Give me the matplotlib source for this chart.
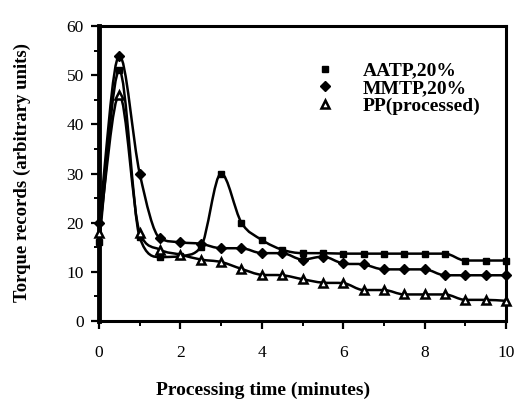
import numpy as np
import matplotlib
matplotlib.use("Agg")
import matplotlib.pyplot as plt
from matplotlib.path import Path
from matplotlib.patches import PathPatch
from matplotlib.lines import Line2D

plt.rcParams['font.family'] = ['Liberation Serif', 'DejaVu Serif']

# processing time (minutes) and torque records
time = [0, 0.5, 1, 1.5, 2, 2.5, 3, 3.5, 4, 4.5, 5, 5.5, 6, 6.5, 7, 7.5, 8, 8.5, 9, 9.5, 10]
aatp = [16, 51, 17, 13, 13.2, 15, 30, 20, 16.5, 14.5, 13.8, 13.8, 13.7, 13.7, 13.7,
        13.7, 13.7, 13.7, 12.3, 12.3, 12.3]
mmtp = [20, 54, 30, 16.8, 16, 15.7, 14.8, 14.8, 13.8, 13.8, 12.5, 13.1, 11.7, 11.5,
        10.5, 10.5, 10.5, 9.3, 9.3, 9.3, 9.3]
pp = [18, 46, 18, 14.5, 13.5, 12.5, 12, 10.6, 9.4, 9.3, 8.5, 7.8, 7.7, 6.3, 6.3,
      5.4, 5.4, 5.4, 4.3, 4.3, 4.1]
labels = ['AATP,20%', 'MMTP,20%', 'PP(processed)']


def smooth_path(x, y):
    # catmull-rom tangents limited to stay monotone, drawn as bezier segments
    x = np.asarray(x, float)
    y = np.asarray(y, float)
    h = np.diff(x)
    d = np.diff(y) / h
    m = np.zeros_like(y)
    m[0], m[-1] = d[0], d[-1]
    for i in range(1, len(y) - 1):
        if d[i - 1] * d[i] > 0:
            cr = (y[i + 1] - y[i - 1]) / (x[i + 1] - x[i - 1])
            lim = 3 * min(abs(d[i - 1]), abs(d[i]))
            m[i] = np.sign(cr) * min(abs(cr), lim)
    verts = [(x[0], y[0])]
    codes = [Path.MOVETO]
    for i in range(len(h)):
        verts += [(x[i] + h[i] / 3, y[i] + m[i] * h[i] / 3),
                  (x[i + 1] - h[i] / 3, y[i + 1] - m[i + 1] * h[i] / 3),
                  (x[i + 1], y[i + 1])]
        codes += [Path.CURVE4] * 3
    return Path(verts, codes)


fig = plt.figure(figsize=(5.18, 4.05), dpi=100)
ax = fig.add_axes([99 / 518, 1 - 321 / 405, 407 / 518, 295 / 405])

styles = [dict(marker='s', ms=4, mfc='black'),
          dict(marker='D', ms=5, mfc='black'),
          dict(marker='^', ms=6, mfc='white', mew=1.8)]

for ys, st in zip([aatp, mmtp, pp], styles):
    ax.add_patch(PathPatch(smooth_path(time, ys), fill=False, lw=1.8,
                           edgecolor='black', zorder=3))
    ax.plot(time, ys, ls='none', color='black', mec='black', zorder=4,
            clip_on=False, **st)

ax.set_xlim(0, 10)
ax.set_ylim(0, 60)
ax.set_xticks(range(0, 11, 2))
ax.set_xticks(range(1, 10, 2), minor=True)
ax.set_yticks(range(0, 61, 10))
ax.set_yticks(range(5, 60, 10), minor=True)

for s in ax.spines.values():
    s.set_linewidth(2.2)
ax.spines['left'].set_linewidth(3.5)

ax.tick_params(axis='both', which='major', direction='out', length=6, width=1.6,
               labelsize=12.5)
ax.tick_params(axis='both', which='minor', direction='out', length=3.5, width=1.4)
ax.tick_params(axis='x', which='major', pad=11)
ax.tick_params(axis='y', which='major', pad=5)

fig.text(22 / 518, 1 - 172 / 405, 'Torque records (arbitrary units)', rotation=90,
         ha='center', va='center', fontsize=13.5, fontweight='bold')
fig.text(263 / 518, 1 - 390 / 405, 'Processing time (minutes)',
         ha='center', va='center', fontsize=14, fontweight='bold')

handles = [Line2D([], [], ls='none', color='black', mec='black', **st) for st in styles]
leg = ax.legend(handles, labels, loc='upper left', bbox_to_anchor=(306 / 518, 1 - 52 / 405),
                bbox_transform=fig.transFigure, frameon=False, borderpad=0,
                handlelength=1.0, handletextpad=1.4, labelspacing=0.0,
                prop=dict(family='Liberation Serif', weight='bold', size=14))

fig.savefig('out.png', dpi=100)
